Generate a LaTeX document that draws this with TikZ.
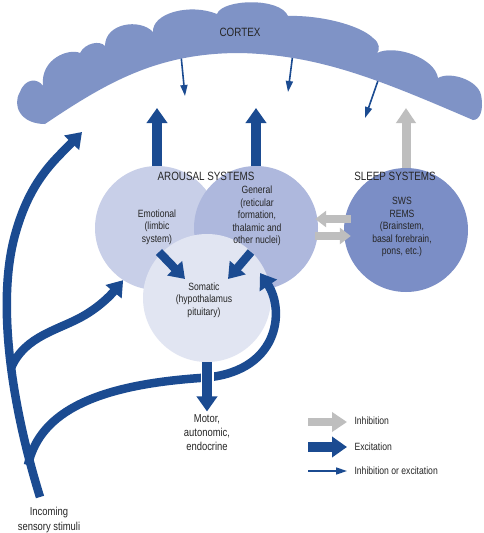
\documentclass[tikz,border=0pt]{standalone}
\usepackage{fontspec}
\setmainfont{Liberation Sans}[FakeStretch=0.82]
\usetikzlibrary{arrows.meta, positioning, calc}

\definecolor{cortexblue}{RGB}{127,147,198}
\definecolor{sleepblue}{RGB}{123,142,198}
\definecolor{genblue}{RGB}{174,184,221}
\definecolor{emoblue}{RGB}{200,207,232}
\definecolor{somblue}{RGB}{225,229,242}
\definecolor{arrowblue}{RGB}{27,75,145}
\definecolor{inhibgray}{RGB}{190,190,190}

\begin{document}
\begin{tikzpicture}[x=1pt, y=-1pt,
    sphere/.style={circle, inner sep=0pt, minimum size=124pt},
    txt/.style={align=center, font=\fontsize{10.5}{12.5}\selectfont, text=black!85},
    heading/.style={font=\fontsize{12}{14}\selectfont, text=black!85},
    excitearrow/.style={draw=arrowblue, line width=9.5pt, -{Triangle[width=20pt,length=15pt]}},
    fiberarrow/.style={draw=arrowblue, line width=8.5pt, -{Triangle[width=20pt,length=15pt]}},
    inhibarrow/.style={draw=inhibgray, line width=9pt, -{Triangle[width=19pt,length=15pt]}},
    inhibsmall/.style={draw=inhibgray, line width=7.5pt, -{Triangle[width=16pt,length=11pt]}},
    mixedarrow/.style={draw=arrowblue, line width=1.6pt, -{Triangle[width=7pt,length=11pt]}}
]
\path[use as bounding box, fill=white] (0,0) rectangle (483,533);

% projections down from the cortex
\coordinate (c1s) at (180,45);
\coordinate (c1e) at (185,96);
\coordinate (c2s) at (294,45);
\coordinate (c2e) at (288,92);
\coordinate (c3s) at (381,72);
\coordinate (c3e) at (365,118);
\draw[mixedarrow] (c1s) -- (c1e);
\draw[mixedarrow] (c2s) -- (c2e);
\draw[mixedarrow] (c3s) -- (c3e);

% cortex band
\fill[cortexblue] (45,124) .. controls (20,124) and (12,105) .. (20,92)
  .. controls (25,78) and (38,78) .. (43,86)
  .. controls (40,58) and (70,48) .. (80,53)
  .. controls (85,43) and (100,40) .. (105,46)
  .. controls (105,23) and (140,18) .. (153,32)
  .. controls (152,13) and (190,3) .. (217,14)
  .. controls (222,-1) and (280,-3) .. (288,16)
  .. controls (320,15) and (360,25) .. (373,38)
  .. controls (380,43) and (380,50) .. (377,53)
  .. controls (395,44) and (435,58) .. (438,78)
  .. controls (450,71) and (478,80) .. (481,95)
  .. controls (484,110) and (480,120) .. (473,120)
  .. controls (380,80) and (320,55) .. (240,53)
  .. controls (160,53) and (110,80) .. (45,124) -- cycle;
\node[heading] (cortex) at (240,32) {CORTEX};

% systems
\node[sphere, fill=emoblue] (emo) at (157,228) {};
\node[sphere, fill=genblue] (gen) at (256,228) {};
\node[sphere, minimum size=128pt, fill=somblue] (som) at (207,298) {};
\node[sphere, minimum size=124pt, fill=sleepblue] (sleep) at (406,230) {};

\node[txt] (emotxt) at (157,227) {Emotional\\(limbic\\system)};
\node[txt] (gentxt) at (257,216) {General\\(reticular\\formation,\\thalamic and\\other nuclei)};
\node[txt] (somtxt) at (204,300) {Somatic\\(hypothalamus\\pituitary)};
\node[txt] (sleeptxt) at (402,227) {SWS\\REMS\\(Brainstem,\\basal forebrain,\\pons, etc.)};
\node[heading] (arousal) at (206,176) {AROUSAL SYSTEMS};
\node[heading] (sleeplbl) at (395,176) {SLEEP SYSTEMS};

% up to the cortex
\coordinate (up1) at (157,108);
\coordinate (up2) at (256,108);
\coordinate (up3) at (406,108);
\draw[excitearrow] (emo.north) -- (up1);
\draw[excitearrow] (gen.north) -- (up2);
\draw[inhibarrow] (sleep.north) -- (up3);

% inside the arousal systems
\draw[excitearrow, line width=8.5pt] ([shift={(2,24)}]emo.center) -- ([shift={(-22,-19)}]som.center);
\draw[excitearrow, line width=8.5pt] ([shift={(-5,24)}]gen.center) -- ([shift={(21,-19)}]som.center);

% arousal <-> sleep
\draw[inhibsmall] ([shift={(7,-11)}]sleep.west) -- ([shift={(-3,-9)}]gen.east);
\draw[inhibsmall] ([shift={(-3,8)}]gen.east) -- ([shift={(7,6)}]sleep.west);

% incoming sensory stimuli
\node[txt, font=\fontsize{11.5}{15}\selectfont] (incoming) at (49,520) {Incoming\\sensory stimuli};
\coordinate (stim) at (40,497);
\coordinate (cx0) at (82,132);
\coordinate (br1) at (11,368);
\coordinate (br2) at (28,465);
\draw[fiberarrow] (stim) .. controls (10,400) and (-3,300) .. (15,235)
  .. controls (30,180) and (55,160) .. (cx0);
\draw[fiberarrow] (br1) .. controls (25,335) and (60,330) .. (85,315)
  .. controls (100,306) and (110,296) .. (emo.237);
\draw[fiberarrow] (br2) .. controls (40,410) and (100,385) .. (200,378)
  .. controls (280,374) and (285,310) .. ([shift={(53,-25)}]som.center);

% output
\node[txt, font=\fontsize{11.5}{14}\selectfont] (motor) at (207,433) {Motor,\\autonomic,\\endocrine};
\draw[white, line width=13pt] (som.south) -- ++(0,30);
\draw[excitearrow] (som.south) -- (motor.north);

% key
\node[txt, anchor=west] (leginh) at (351,421) {Inhibition};
\node[txt, anchor=west] (legexc) at (351,447) {Excitation};
\node[txt, anchor=west] (legmix) at (351,471) {Inhibition or excitation};
\coordinate (lg1) at (308,422);
\coordinate (lg2) at (308,447);
\coordinate (lg3) at (308,471);
\draw[inhibarrow, line width=8.5pt, shorten >=4pt] (lg1) -- (leginh.west |- lg1);
\draw[excitearrow, shorten >=4pt] (lg2) -- (legexc.west |- lg2);
\draw[mixedarrow, shorten >=4pt] (lg3) -- (legmix.west |- lg3);
\end{tikzpicture}
\end{document}
